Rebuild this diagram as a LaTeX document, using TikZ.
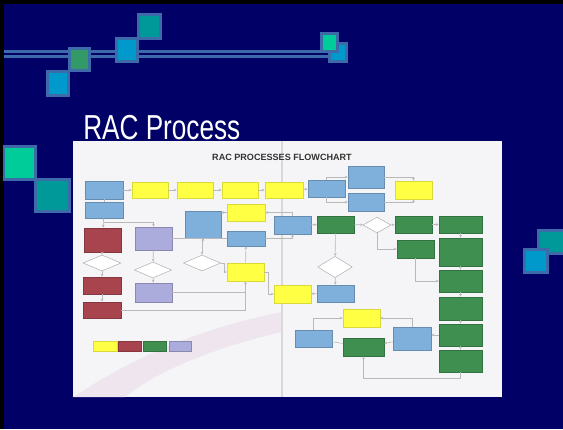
\documentclass[tikz,border=0pt]{standalone}
\usepackage{fontspec}
\setmainfont{Liberation Sans}
\usetikzlibrary{arrows.meta}
\usetikzlibrary{fit}
\usetikzlibrary{shapes.geometric}

\definecolor{navy}{HTML}{000066}
\definecolor{steel}{HTML}{3D6AA8}
\definecolor{decoBlue}{HTML}{0099CC}
\definecolor{decoGreen}{HTML}{339966}
\definecolor{decoTeal}{HTML}{009999}
\definecolor{decoMint}{HTML}{00CC99}
\definecolor{paper}{HTML}{F5F5F7}
\definecolor{swoosh}{HTML}{EEE5EE}
\definecolor{boxBlue}{HTML}{7FB0DC}
\definecolor{boxYellow}{HTML}{FFFF44}
\definecolor{boxRed}{HTML}{A8444E}
\definecolor{boxPurple}{HTML}{ABABDC}
\definecolor{boxGreen}{HTML}{3F8F50}

\tikzset{
  deco/.style={draw=steel, line width=2.2pt},
  flowbox/.style={inner sep=0pt, line width=0.4pt},
  bluebox/.style={flowbox, fill=boxBlue, draw=boxBlue!80!black},
  yellowbox/.style={flowbox, fill=boxYellow, draw=boxYellow!85!black},
  redbox/.style={flowbox, fill=boxRed, draw=boxRed!80!black},
  purplebox/.style={flowbox, fill=boxPurple, draw=boxPurple!80!black},
  greenbox/.style={flowbox, fill=boxGreen, draw=boxGreen!80!black},
  decision/.style={diamond, inner sep=0pt, fill=white, draw=gray!60, line width=0.4pt},
  conn/.style={draw=gray!55, line width=0.45pt, -{Stealth[length=2.2pt,width=2pt]}},
  joinline/.style={draw=gray!55, line width=0.45pt}
}

\begin{document}
\begin{tikzpicture}[x=0.75pt,y=0.75pt,yscale=-1,xscale=1]
\useasboundingbox (0,0) rectangle (563,429);

%Background
\fill[navy] (0,0) rectangle (563,429);
\fill[black] (0,0) rectangle (563,4);
\fill[black] (0,0) rectangle (4,429);

%Straight Lines: double rule
\draw[steel, line width=2.2pt] (4,51.5) -- (333,51.5);
\draw[steel, line width=2.2pt] (4,56.5) -- (333,56.5);

%Shape: Squares top
\draw[deco, fill=decoBlue] (47.5,71.5) rectangle (68.5,95.5);
\draw[deco, fill=decoGreen] (69.5,48.5) rectangle (89.5,70.5);
\draw[deco, fill=decoTeal] (138.5,14.5) rectangle (160.5,38.5);
\draw[deco, fill=decoBlue] (116.5,38.5) rectangle (137.5,61.5);
\draw[deco, fill=decoBlue] (329.5,43.5) rectangle (346.5,61.5);
\draw[deco, fill=decoMint] (321.5,33.5) rectangle (337.5,51.5);
%Shape: Squares left
\draw[deco, fill=decoMint] (4,146.5) rectangle (35.5,179.5);
\draw[deco, fill=decoTeal] (35.5,179.5) rectangle (69.5,211.5);
%Shape: Squares right
\draw[deco, fill=decoTeal] (538.5,230.5) rectangle (566,253.5);
\draw[deco, fill=decoBlue] (524.5,249.5) rectangle (547.5,272.5);

% Text Node
\node[anchor=base west, inner sep=0pt, text=white, font=\fontsize{26}{28}\selectfont] (title) at (83,139.5) {\scalebox{0.755}[1]{RAC Process}};

%Shape: Photo of the chart
\fill[paper] (73,141) rectangle (502,397);
\fill[swoosh] (74,397) .. controls (150,345) and (230,322) .. (282,312) -- (282,332) .. controls (225,345) and (160,368) .. (125,397) -- cycle;
\draw[gray!30, line width=1.5pt] (282,141) -- (282,397);

% Text Node
\node[font=\bfseries\fontsize{6.8}{8}\selectfont, text=gray!40!black, inner sep=0pt] (charttitle) at (282,157) {RAC PROCESSES FLOWCHART};

%Shape: Top row
\node[bluebox, fit={(85,181) (123,199)}] (req) {};
\node[bluebox, fit={(85,202) (123,218)}] (rev) {};
\node[yellowbox, fit={(132,182) (168,198)}] (y1) {};
\node[yellowbox, fit={(177,182) (213,198)}] (y2) {};
\node[yellowbox, fit={(222,182) (258,198)}] (y3) {};
\node[yellowbox, fit={(265,182) (303,198)}] (y4) {};
\node[bluebox, fit={(308,180) (345,197)}] (indep) {};
\node[bluebox, fit={(348,166) (384,188)}] (appr) {};
\node[bluebox, fit={(348,193) (384,211)}] (rej) {};
\node[yellowbox, fit={(395,181) (432,199)}] (upd1) {};

%Shape: Middle row
\node[redbox, fit={(84,228) (121,252)}] (den1) {};
\node[purplebox, fit={(135,227) (172,250)}] (pur1) {};
\node[bluebox, fit={(185,211) (221,238)}] (recL) {};
\node[yellowbox, fit={(227,204) (265,221)}] (upd2) {};
\node[bluebox, fit={(227,231) (265,246)}] (letter) {};
\node[bluebox, fit={(274,216) (311,234)}] (recR) {};
\node[greenbox, fit={(317,216) (354,233)}] (g1) {};
\node[decision, minimum width=21pt, minimum height=12pt] (d1) at (377,225) {};
\node[greenbox, fit={(395,216) (432,233)}] (g2) {};
\node[greenbox, fit={(439,216) (482,233)}] (g3) {};
\node[greenbox, fit={(397,240) (434,258)}] (g4) {};

%Shape: Right column
\node[greenbox, fit={(439,238) (482,266)}] (g5) {};
\node[greenbox, fit={(439,270) (482,292)}] (g6) {};
\node[greenbox, fit={(439,297) (482,320)}] (g7) {};
\node[greenbox, fit={(439,324) (482,346)}] (g8) {};
\node[greenbox, fit={(439,350) (482,372)}] (g9) {};

%Shape: Left branches
\node[decision, minimum width=28.5pt, minimum height=12pt] (d3) at (102,263) {};
\node[redbox, fit={(83,277) (121,294)}] (den2) {};
\node[redbox, fit={(83,302) (121,318)}] (den3) {};
\node[decision, minimum width=28pt, minimum height=12pt] (d4) at (153,270) {};
\node[purplebox, fit={(135,283) (172,302)}] (pur2) {};
\node[decision, minimum width=28pt, minimum height=12pt] (d5) at (202,263) {};
\node[yellowbox, fit={(227,263) (264,281)}] (rel) {};

%Shape: Lower middle
\node[decision, minimum width=26pt, minimum height=16pt] (d2) at (335,267) {};
\node[bluebox, fit={(317,285) (354,302)}] (denial) {};
\node[yellowbox, fit={(274,285) (311,303)}] (upd3) {};
\node[yellowbox, fit={(343,309) (380,327)}] (upd4) {};
\node[bluebox, fit={(295,330) (332,347)}] (recLL) {};
\node[greenbox, fit={(343,338) (384,356)}] (award) {};
\node[bluebox, fit={(393,327) (431,350)}] (recRR) {};

%Shape: Legend
\node[yellowbox, fit={(93,341) (117,351)}] (keyyellow) {};
\node[redbox, fit={(118,341) (141,351)}] (keyred) {};
\node[greenbox, fit={(143,341) (166,351)}] (keygreen) {};
\node[purplebox, fit={(169,341) (191,351)}] (keypurple) {};

%Straight Lines: top row
\draw[conn] (req) -- (y1);
\draw[conn] (y1) -- (y2);
\draw[conn] (y2) -- (y3);
\draw[conn] (y3) -- (y4);
\draw[conn] (y4) -- (indep);
\draw[joinline] (req) -- (rev);
\draw[conn] (indep.north) |- (appr.west);
\draw[conn] (indep.south) |- (rej.west);
\draw[conn] (appr.east) -| (upd1.north);
\draw[conn] (rej.east) -| (upd1.south);

%Straight Lines: left branches
\draw[conn] (rev) -- (den1);
\draw[conn] (rev.south) ++(0,4) -| (pur1.north);
\draw[conn] (den1) -- (d3);
\draw[conn] (d3) -- (den2);
\draw[conn] (den2) -- (den3);
\draw[conn] (pur1) -- (d4);
\draw[conn] (d4) -- (pur2);
\draw[conn] (pur1.east) -| (d5.north);
\draw[conn] (d5.east) -- ++(3,0) |- (rel.west);
\draw[conn] (den3.east) -| (rel.south);
\draw[joinline] (pur2.east) -- (pur2.east -| rel.south);

%Straight Lines: middle
\draw[conn] (rel) -- (letter);
\draw[conn] (letter.west) -| (recL.south);
\draw[conn] (letter.east) -| (recR.south);
\draw[conn] (recR.north) |- (upd2.east);
\draw[conn] (upd2.west) -- (upd2.west -| recL.east);
\draw[conn] (recR) -- (g1);
\draw[conn] (g1) -- (d1);
\draw[conn] (d1) -- (g2);
\draw[conn] (g2) -- (g3);
\draw[conn] (d1.south) |- (g4.west);
\draw[conn] (g3) -- (g5);
\draw[conn] (g5) -- (g6);
\draw[conn] (g6) -- (g7);
\draw[conn] (g7) -- (g8);
\draw[conn] (g8) -- (g9);
\draw[conn] (g4.south) |- (g6.west);

%Straight Lines: lower
\draw[conn] (g1) -- (d2);
\draw[conn] (d2) -- (denial);
\draw[conn] (denial) -- (upd3);
\draw[conn] (rel.east) -- ++(4,0) |- (upd3.west);
\draw[conn] (g8.west) -- (g8.west -| recRR.east);
\draw[conn] (recRR) -- (award);
\draw[joinline] (award) -- (recLL);
\draw[conn] (recLL.north) |- (upd4.west);
\draw[conn] (recRR.north) |- (upd4.east);
\draw[conn] (g9.south) -- ++(0,6) -| (award.south);

\end{tikzpicture}
\end{document}
